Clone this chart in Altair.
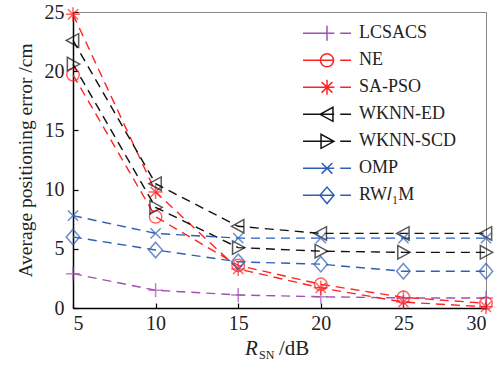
import altair as alt
import pandas as pd

snr = [5, 10, 15, 20, 25, 30]
methods = ["LCSACS", "NE", "SA-PSO", "WKNN-ED", "WKNN-SCD", "OMP", "RW\U0001D459\u2081M"]
lcsacs = [2.9, 1.5, 1.1, 0.95, 0.85, 0.85]
ne = [19.7, 7.7, 3.6, 2.0, 0.9, 0.4]
sapso = [24.8, 9.8, 3.3, 1.7, 0.5, 0.1]
wknn_ed = [22.6, 10.5, 6.9, 6.3, 6.3, 6.3]
wknn_scd = [20.6, 8.5, 5.1, 4.8, 4.7, 4.7]
omp = [7.8, 6.3, 5.9, 5.9, 5.9, 5.9]
rwl1m = [6.0, 4.9, 3.9, 3.7, 3.1, 3.1]
series = [lcsacs, ne, sapso, wknn_ed, wknn_scd, omp, rwl1m]
colors = ["#A24FB6", "#FF2222", "#FF2222", "#111111", "#111111", "#2E5FB5", "#2E5FB5"]
yticks = [0, 5, 10, 15, 20, 25]

rows = []
for m, vals in zip(methods, series):
    for s, v in zip(snr, vals):
        rows.append({"method": m, "snr": s, "err": v})
df = pd.DataFrame(rows)

# marker shapes (unit coordinates)
markers = [
    [("M", -1, 0), ("L", 1, 0), ("M", 0, -1), ("L", 0, 1)],
    "circle",
    [("M", -1, 0), ("L", 1, 0), ("M", 0, -1), ("L", 0, 1), ("M", -0.72, -0.72), ("L", 0.72, 0.72), ("M", -0.72, 0.72), ("L", 0.72, -0.72)],
    [("M", -0.95, 0), ("L", 0.8, -0.95), ("L", 0.8, 0.95), ("Z",)],
    [("M", 0.95, 0), ("L", -0.8, -0.95), ("L", -0.8, 0.95), ("Z",)],
    [("M", -0.72, -0.72), ("L", 0.72, 0.72), ("M", -0.72, 0.72), ("L", 0.72, -0.72)],
    [("M", 0, -1.1), ("L", 0.95, 0), ("L", 0, 1.1), ("L", -0.95, 0), ("Z",)],
]


def to_path(mk, scale, dx=0.0):
    if mk == "circle":
        r = 0.88 * scale
        return f"M{dx - r:.3f},0A{r:.3f},{r:.3f} 0 1,0 {dx + r:.3f},0A{r:.3f},{r:.3f} 0 1,0 {dx - r:.3f},0Z"
    out = []
    for c in mk:
        if c[0] == "Z":
            out.append("Z")
        else:
            out.append(f"{c[0]}{c[1] * scale + dx:.3f},{c[2] * scale:.3f}")
    return "".join(out)


plot_paths = [to_path(mk, 1.0) for mk in markers]
leg_paths = ["M-1,0L0.3,0M0.55,0L1,0" + to_path(mk, 0.31) for mk in markers]

W, H = 413, 296
xs = alt.Scale(domain=[5, 30], nice=False)
ys = alt.Scale(domain=[0, 25], nice=False)
col = alt.Color("method:N", scale=alt.Scale(domain=methods, range=colors), legend=None)

base = alt.Chart(df)

lines = base.mark_line(strokeDash=[9, 6], strokeWidth=1.4).encode(
    x=alt.X("snr:Q", scale=xs, axis=alt.Axis(values=snr, ticks=False, title=None, labelPadding=5,
                                             labelFontSize=20, labelFont="Liberation Serif", labelColor="#222",
                                             grid=False, domainColor="#000", domainWidth=1.5)),
    y=alt.Y("err:Q", scale=ys, axis=alt.Axis(values=yticks, ticks=False, labelPadding=9,
                                             labelFontSize=20, labelFont="Liberation Serif", labelColor="#222",
                                             grid=False, domainColor="#000", domainWidth=1.5,
                                             title="Average positioning error /cm", titleFont="Liberation Serif",
                                             titleFontSize=19.5, titleFontWeight="normal", titleColor="#222",
                                             titlePadding=9)),
    color=col,
    detail="method:N",
)

pts = base.mark_point(filled=False, size=200, strokeWidth=1.5).encode(
    x=alt.X("snr:Q", scale=xs),
    y=alt.Y("err:Q", scale=ys),
    color=col,
    shape=alt.Shape("method:N", scale=alt.Scale(domain=methods, range=plot_paths), legend=None),
)

legend_layer = base.mark_point(filled=False, strokeWidth=1.5, opacity=1).encode(
    x=alt.X("snr:Q", scale=xs),
    y=alt.Y("err:Q", scale=ys),
    stroke=alt.Stroke("method:N", scale=alt.Scale(domain=methods, range=colors),
                      legend=alt.Legend(title=None, orient="none", legendX=229, legendY=8,
                                        labelFont="Liberation Serif", labelFontSize=18, labelColor="#222",
                                        symbolSize=2304, symbolStrokeWidth=1.5, symbolFillColor="transparent",
                                        clipHeight=26.6, labelOffset=7, rowPadding=0, padding=0,
                                        labelLimit=200)),
    shape=alt.Shape("method:N", scale=alt.Scale(domain=methods, range=leg_paths)),
).transform_filter("false")

one = pd.DataFrame({"k": [0]})
t_r = alt.Chart(one).mark_text(font="Liberation Serif", fontSize=21, fontStyle="italic", align="left",
                               baseline="alphabetic", color="#222").encode(
    x=alt.value(172), y=alt.value(343), text=alt.value("R"))
t_sn = alt.Chart(one).mark_text(font="Liberation Serif", fontSize=12, align="left",
                                baseline="alphabetic", color="#222").encode(
    x=alt.value(186), y=alt.value(347), text=alt.value("SN"))
t_db = alt.Chart(one).mark_text(font="Liberation Serif", fontSize=21, align="left",
                                baseline="alphabetic", color="#222").encode(
    x=alt.value(206), y=alt.value(343), text=alt.value("/dB"))

main = alt.layer(lines, pts, legend_layer, t_r, t_sn, t_db).resolve_scale(
    shape="independent", color="independent", stroke="independent"
)

ticks = base.mark_point(opacity=0).encode(
    x=alt.X("snr:Q", scale=xs, axis=alt.Axis(orient="top", offset=-H, values=snr, labels=False, domain=False,
                                             tickSize=5, tickColor="#000", tickWidth=1.2, title=None, grid=False)),
    y=alt.Y("err:Q", scale=ys, axis=alt.Axis(orient="right", offset=-W, values=yticks,
                                             labels=False, domain=False, tickSize=5, tickColor="#000",
                                             tickWidth=1.2, title=None, grid=False)),
)

chart = alt.layer(main, ticks).resolve_axis(x="independent", y="independent").properties(
    width=W, height=H,
    autosize=alt.AutoSizeParams(type="none"),
    padding={"left": 73, "top": 12, "right": 16, "bottom": 59},
).configure_view(stroke="#888", strokeWidth=1)

chart.save("out.html", embed_options={"renderer": "svg", "actions": False})
